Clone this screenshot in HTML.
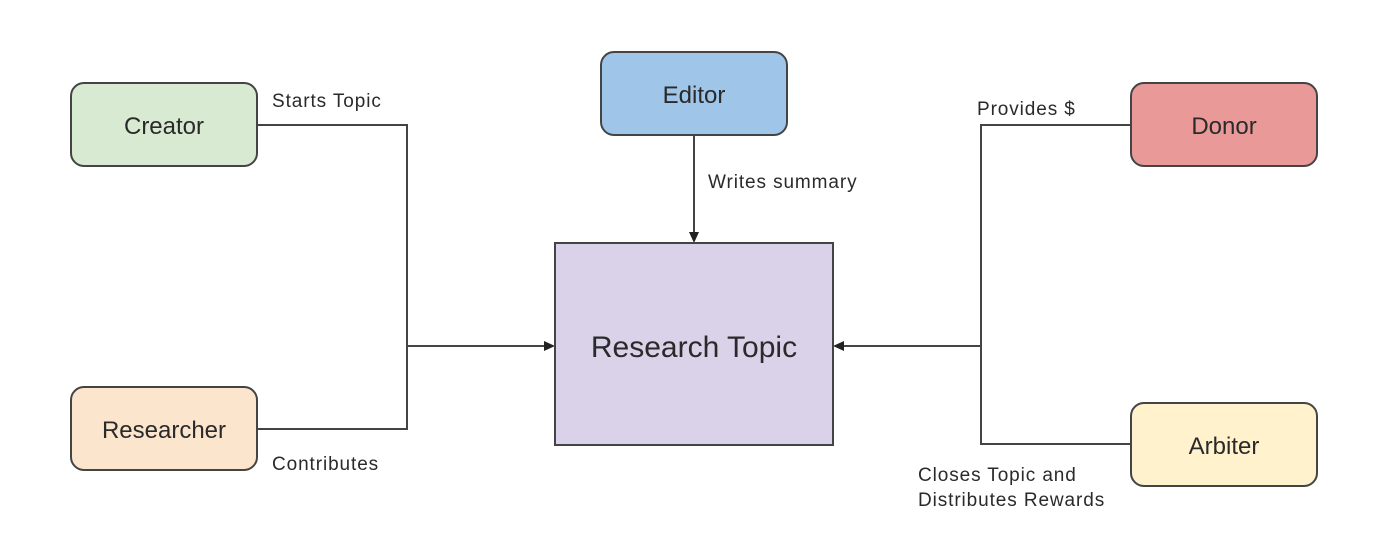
<!DOCTYPE html>
<html><head><meta charset="utf-8"><style>
html,body{margin:0;padding:0;background:#fff;width:1390px;height:554px;overflow:hidden}
text{font-family:"Liberation Sans",Arial,sans-serif;fill:#2a2a2a}
</style></head><body>
<svg width="1390" height="554" viewBox="0 0 1390 554" xmlns="http://www.w3.org/2000/svg">
<g stroke="#444" stroke-width="2" fill="none">
<polyline points="257,125 407,125 407,429 257,429"/>
<line x1="407" y1="346" x2="546" y2="346"/>
<line x1="694" y1="135" x2="694" y2="235"/>
<polyline points="1131,125 981,125 981,444 1131,444"/>
<line x1="981" y1="346" x2="842" y2="346"/>
</g>
<g fill="#222">
<polygon points="555,346 544,341 544,351"/>
<polygon points="694,243 689,232 699,232"/>
<polygon points="833,346 844,341 844,351"/>
</g>
<g stroke="#444" stroke-width="2">
<rect x="71" y="83" width="186" height="83" rx="13" fill="#d9ead3"/>
<rect x="71" y="387" width="186" height="83" rx="13" fill="#fce5cd"/>
<rect x="601" y="52" width="186" height="83" rx="13" fill="#9fc5e8"/>
<rect x="1131" y="83" width="186" height="83" rx="13" fill="#ea9999"/>
<rect x="1131" y="403" width="186" height="83" rx="13" fill="#fff2cc"/>
<rect x="555" y="243" width="278" height="202" fill="#d9d2e9"/>
</g>
<g font-size="24" text-anchor="middle">
<text x="164" y="134">Creator</text>
<text x="164" y="438">Researcher</text>
<text x="694" y="103">Editor</text>
<text x="1224" y="134">Donor</text>
<text x="1224" y="454">Arbiter</text>
<text x="694" y="357" font-size="30">Research Topic</text>
</g>
<g font-size="19" letter-spacing="0.9" fill="#333">
<text x="272" y="107" fill="#333">Starts Topic</text>
<text x="272" y="470" fill="#333">Contributes</text>
<text x="708" y="188" fill="#333">Writes summary</text>
<text x="977" y="115" fill="#333">Provides $</text>
<text x="918" y="481" fill="#333">Closes Topic and</text>
<text x="918" y="506" fill="#333">Distributes Rewards</text>
</g>
</svg>
</body></html>
